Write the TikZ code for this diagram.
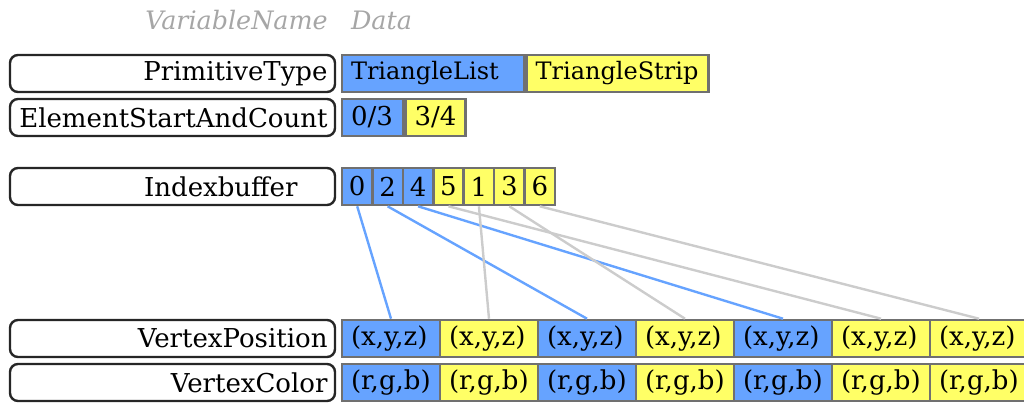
\documentclass[tikz,border=0pt]{standalone}
\usepackage{fontspec}
\setmainfont{DejaVu Serif}
\usetikzlibrary{positioning}

\definecolor{cellblue}{HTML}{66A3FF}
\definecolor{cellyellow}{HTML}{FFFF66}
\definecolor{cellrule}{HTML}{707070}
\definecolor{linkblue}{HTML}{66A3FF}
\definecolor{linkyellow}{HTML}{CCCCCC}

\tikzset{
  header/.style={text=black!35, font=\fontsize{12.7}{12.7}\selectfont\itshape, inner sep=0pt},
  namebox/.style={draw=black!85, line width=1.2pt, rounded corners=4pt, fill=white,
    minimum width=162.5pt, minimum height=18.5pt, text width=155pt, align=right,
    inner sep=0pt, font=\fontsize{13}{13}\selectfont},
  cell/.style={draw=cellrule, line width=1.3pt, minimum height=18.5pt, inner sep=0pt,
    font=\fontsize{13}{13}\selectfont},
  datacell/.style={cell, text width=#1, inner xsep=4.5pt, align=left},
  link/.style={line width=1.2pt},
}

\begin{document}
\begin{tikzpicture}[x=0.5pt, y=-0.5pt]
    \useasboundingbox (0,0) rectangle (1024,403);

    % column titles
    \node[header] (hname) at (236.5,20) {VariableName};
    \node[header] (hdata) at (381.5,20) {Data};

    % variable names
    \node[namebox] (ptype) at (172.5,73.5) {PrimitiveType};
    \node[namebox] (esc) at (172.5,117.5) {ElementStartAndCount};
    \node[namebox] (ibuf) at (172.5,186.5) {Indexbuffer\hspace*{15pt}\mbox{}};
    \node[namebox] (vpos) at (172.5,338.5) {VertexPosition};
    \node[namebox] (vcol) at (172.5,382.5) {VertexColor};

    % primitive type and ranges
    \node[datacell=82pt, fill=cellblue, font=\fontsize{12}{12}\selectfont] (tlist) at (433,73.5) {TriangleList};
    \node[datacell=82pt, fill=cellyellow, font=\fontsize{12}{12}\selectfont, right=0pt of tlist] (tstrip) {TriangleStrip};
    \node[datacell=21.5pt, fill=cellblue] (esc0) at (372.5,117.5) {0/3};
    \node[datacell=21pt, fill=cellyellow, right=0pt of esc0] (esc1) {3/4};

    % index buffer
    \foreach \v/\c [count=\i from 0] in {0/blue,2/blue,4/blue,5/yellow,1/yellow,3/yellow,6/yellow}
        \node[cell, fill=cell\c, minimum width=15.2pt] (idx\i) at (357.2+30.43*\i,186.5) {\v};

    % vertices
    \foreach \c [count=\i from 0] in {blue,yellow,blue,yellow,blue,yellow,yellow} {
        \node[datacell=40pt, fill=cell\c] (pos\i) at (391+98*\i,338.5) {(x,y,z)};
        \node[datacell=40pt, fill=cell\c] (col\i) at (391+98*\i,382.5) {(r,g,b)};
    }

    % index -> vertex
    \foreach \v/\c [count=\i from 0] in {0/blue,2/blue,4/blue,5/yellow,1/yellow,3/yellow,6/yellow}
        \draw[link, draw=link\c] (idx\i.south) -- (pos\v.north);

\end{tikzpicture}
\end{document}
